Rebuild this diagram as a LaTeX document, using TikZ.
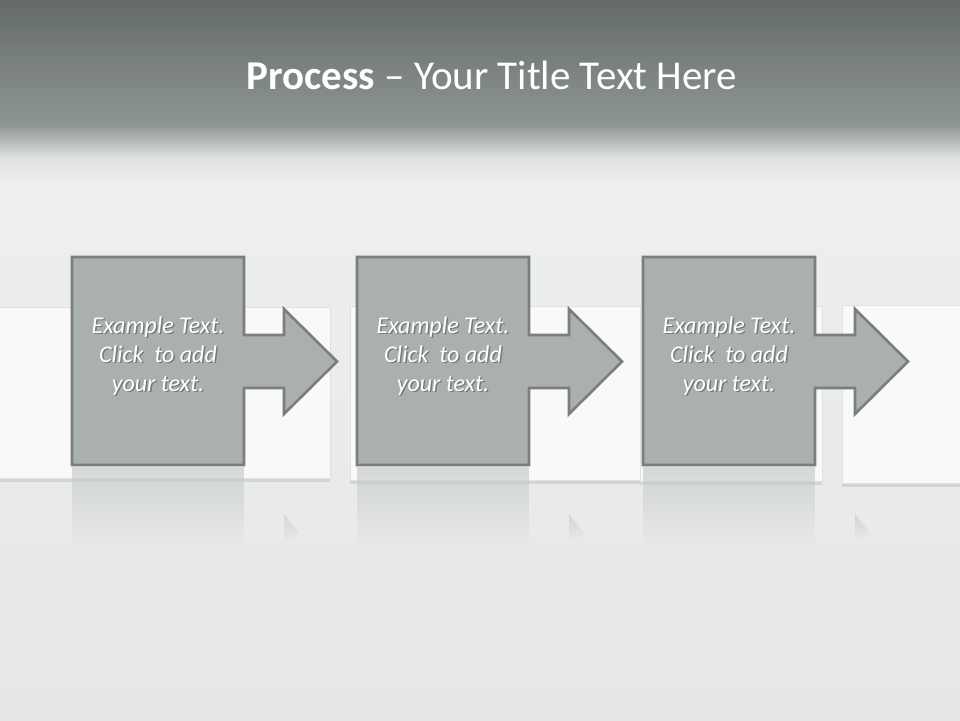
\documentclass[tikz,border=0pt]{standalone}
\usepackage{fontspec}
\setmainfont{Carlito}
\usetikzlibrary{fadings}
\definecolor{hdtop}{HTML}{646A6A}
\definecolor{hdbot}{HTML}{8E9695}
\definecolor{bglight}{HTML}{F0F1F1}
\definecolor{bgbot}{HTML}{E6E7E7}
\definecolor{panel}{HTML}{F9F9F9}
\definecolor{panelline}{HTML}{E0E1E1}
\definecolor{panelshadow}{HTML}{D3D5D5}
\definecolor{boxfill}{HTML}{AAB0AF}
\definecolor{boxline}{HTML}{7A7F7E}
\definecolor{reflect}{HTML}{C6CACA}
\tikzset{
  procshape/.style={fill=boxfill, draw=boxline, line width=2.6pt, line join=miter},
  panelbox/.style={fill=panel, draw=panelline, line width=0.8pt},
  panelshade/.style={draw=panelshadow, line width=3pt},
  reflbox/.style={fill=reflect, path fading=south, fill opacity=0.7},
  refltri/.style={fill=reflect, path fading=south, fill opacity=0.6},
  boxtext/.style={text=white, align=center, font=\fontsize{24}{29}\selectfont\itshape},
  boxshadow/.style={text=black, opacity=0.3, align=center, font=\fontsize{24}{29}\selectfont\itshape},
  titletext/.style={text=white, font=\fontsize{41}{46}\selectfont}
}
\begin{document}
\begin{tikzpicture}[x=1pt,y=-1pt]
\useasboundingbox (0,0) rectangle (960,720);
% background
\shade[top color=bglight, bottom color=bgbot] (0,0) rectangle (960,720);
\shade[top color=hdtop, bottom color=hdbot] (0,0) rectangle (960,125);
\shade[top color=hdbot, bottom color=bglight, middle color=white!72!hdbot] (0,125) rectangle (960,190);
% white panels
\draw[panelbox] (-2,307) rectangle (330,478);
\draw[panelshade] (-2,480) -- (330,480);
\draw[panelbox] (350,306) rectangle (640,480);
\draw[panelshade] (350,482) -- (640,482);
\draw[panelbox] (640,306) rectangle (822,481);
\draw[panelshade] (640,483) -- (822,483);
\draw[panelbox] (842,305) rectangle (962,483);
\draw[panelshade] (842,485) -- (962,485);
% reflections
\foreach \dx in {0,285,571}{
  \fill[reflbox] (72+\dx,467) rectangle (244+\dx,548);
  \fill[refltri] (284+\dx,514) -- (300+\dx,534) -- (284+\dx,542) -- cycle;
}
% process shapes
\foreach \dx/\nm in {0/a,285/b,571/c}{
  \draw[procshape] (72+\dx,257) -- (244+\dx,257) -- (244+\dx,335) -- (284+\dx,335)
    -- (284+\dx,309) -- (337+\dx,361.5) -- (284+\dx,414) -- (284+\dx,388)
    -- (244+\dx,388) -- (244+\dx,465) -- (72+\dx,465) -- cycle;
  \node[boxshadow] at (159.5+\dx,357.5) {Example Text.\\Click\ \ to add\\your text.};
  \node[boxtext] (\nm) at (158+\dx,356) {Example Text.\\Click\ \ to add\\your text.};
}
% title
\node[titletext] (title) at (492,75) {\textbf{Process} -- Your Title Text Here};
\end{tikzpicture}
\end{document}
